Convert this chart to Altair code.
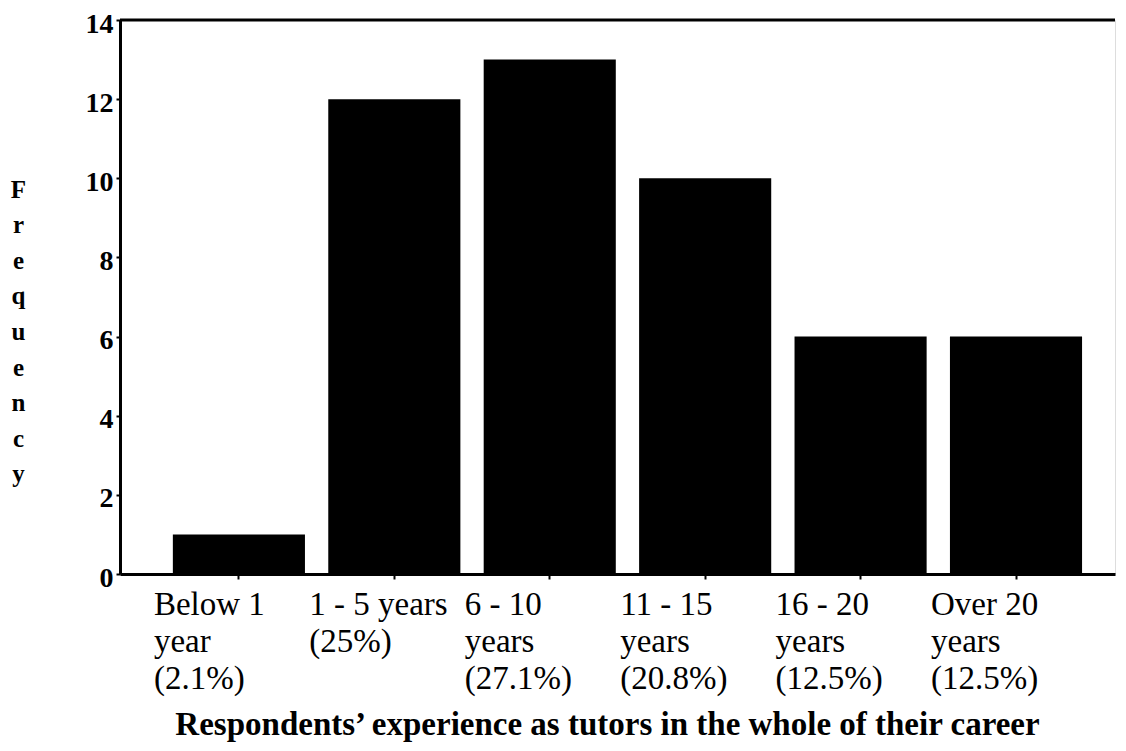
import altair as alt
import pandas as pd

categories = ["Below 1|year", "1 - 5 years", "6 - 10|years", "11 - 15|years", "16 - 20|years", "Over 20|years"]
percents = ["2.1%", "25%", "27.1%", "20.8%", "12.5%", "12.5%"]
frequency = [1, 12, 13, 10, 6, 6]
y_ticks = [0, 2, 4, 6, 8, 10, 12, 14]

labels = [f"{c}|({p})" for c, p in zip(categories, percents)]
df = pd.DataFrame({"label": labels, "freq": frequency})

FONT = "Liberation Serif"

x_enc = alt.X(
    "label:N",
    sort=labels,
    scale=alt.Scale(paddingInner=0.15, paddingOuter=0.276, align=0.616),
    axis=alt.Axis(
        title="Respondents’ experience as tutors in the whole of their career",
        titleFont=FONT, titleFontSize=33, titleFontWeight="bold", titleColor="black",
        titleX=487, titleY=160, titleBaseline="alphabetic", titleAnchor="middle", titleAlign="center",
        labelExpr="split(datum.label, '|')",
        labelAngle=0, labelAlign="left", labelBaseline="top", labelOffset=-85,
        labelFont=FONT, labelFontSize=33, labelColor="black", labelLineHeight=37,
        labelPadding=9, tickSize=5, tickColor="black", tickWidth=2,
        domainColor="black", domainWidth=3, grid=False, labelOverlap=False,
    ),
)

y_enc = alt.Y(
    "freq:Q",
    scale=alt.Scale(domain=[0, 14], nice=False, zero=True),
    axis=alt.Axis(
        values=y_ticks, title=list("Frequency"),
        titleFont=FONT, titleFontSize=25, titleFontWeight="bold", titleColor="black",
        titleAngle=0, titleX=-102, titleY=157, titleBaseline="top", titleAlign="center",
        titleLineHeight=35.6,
        labelFont=FONT, labelFontSize=28, labelFontWeight="bold", labelColor="black",
        labelPadding=3, labelOffset=4, tickSize=4, tickColor="black", tickWidth=2,
        domainColor="black", domainWidth=3, grid=False,
    ),
)

bars = alt.Chart(df).mark_bar(color="black").encode(x=x_enc, y=y_enc)

top_line = alt.Chart(pd.DataFrame({"v": [y_ticks[-1]]})).mark_rule(color="black", strokeWidth=3).encode(y=alt.Y("v:Q"))

chart = alt.layer(bars, top_line).properties(
    width=995, height=554,
    autosize=alt.AutoSizeParams(type="none"),
    padding={"left": 112, "top": 12, "right": 2, "bottom": 170},
).configure_view(stroke=None).configure(background="white")

chart.save("out.html", embed_options={"renderer": "svg", "actions": False})
